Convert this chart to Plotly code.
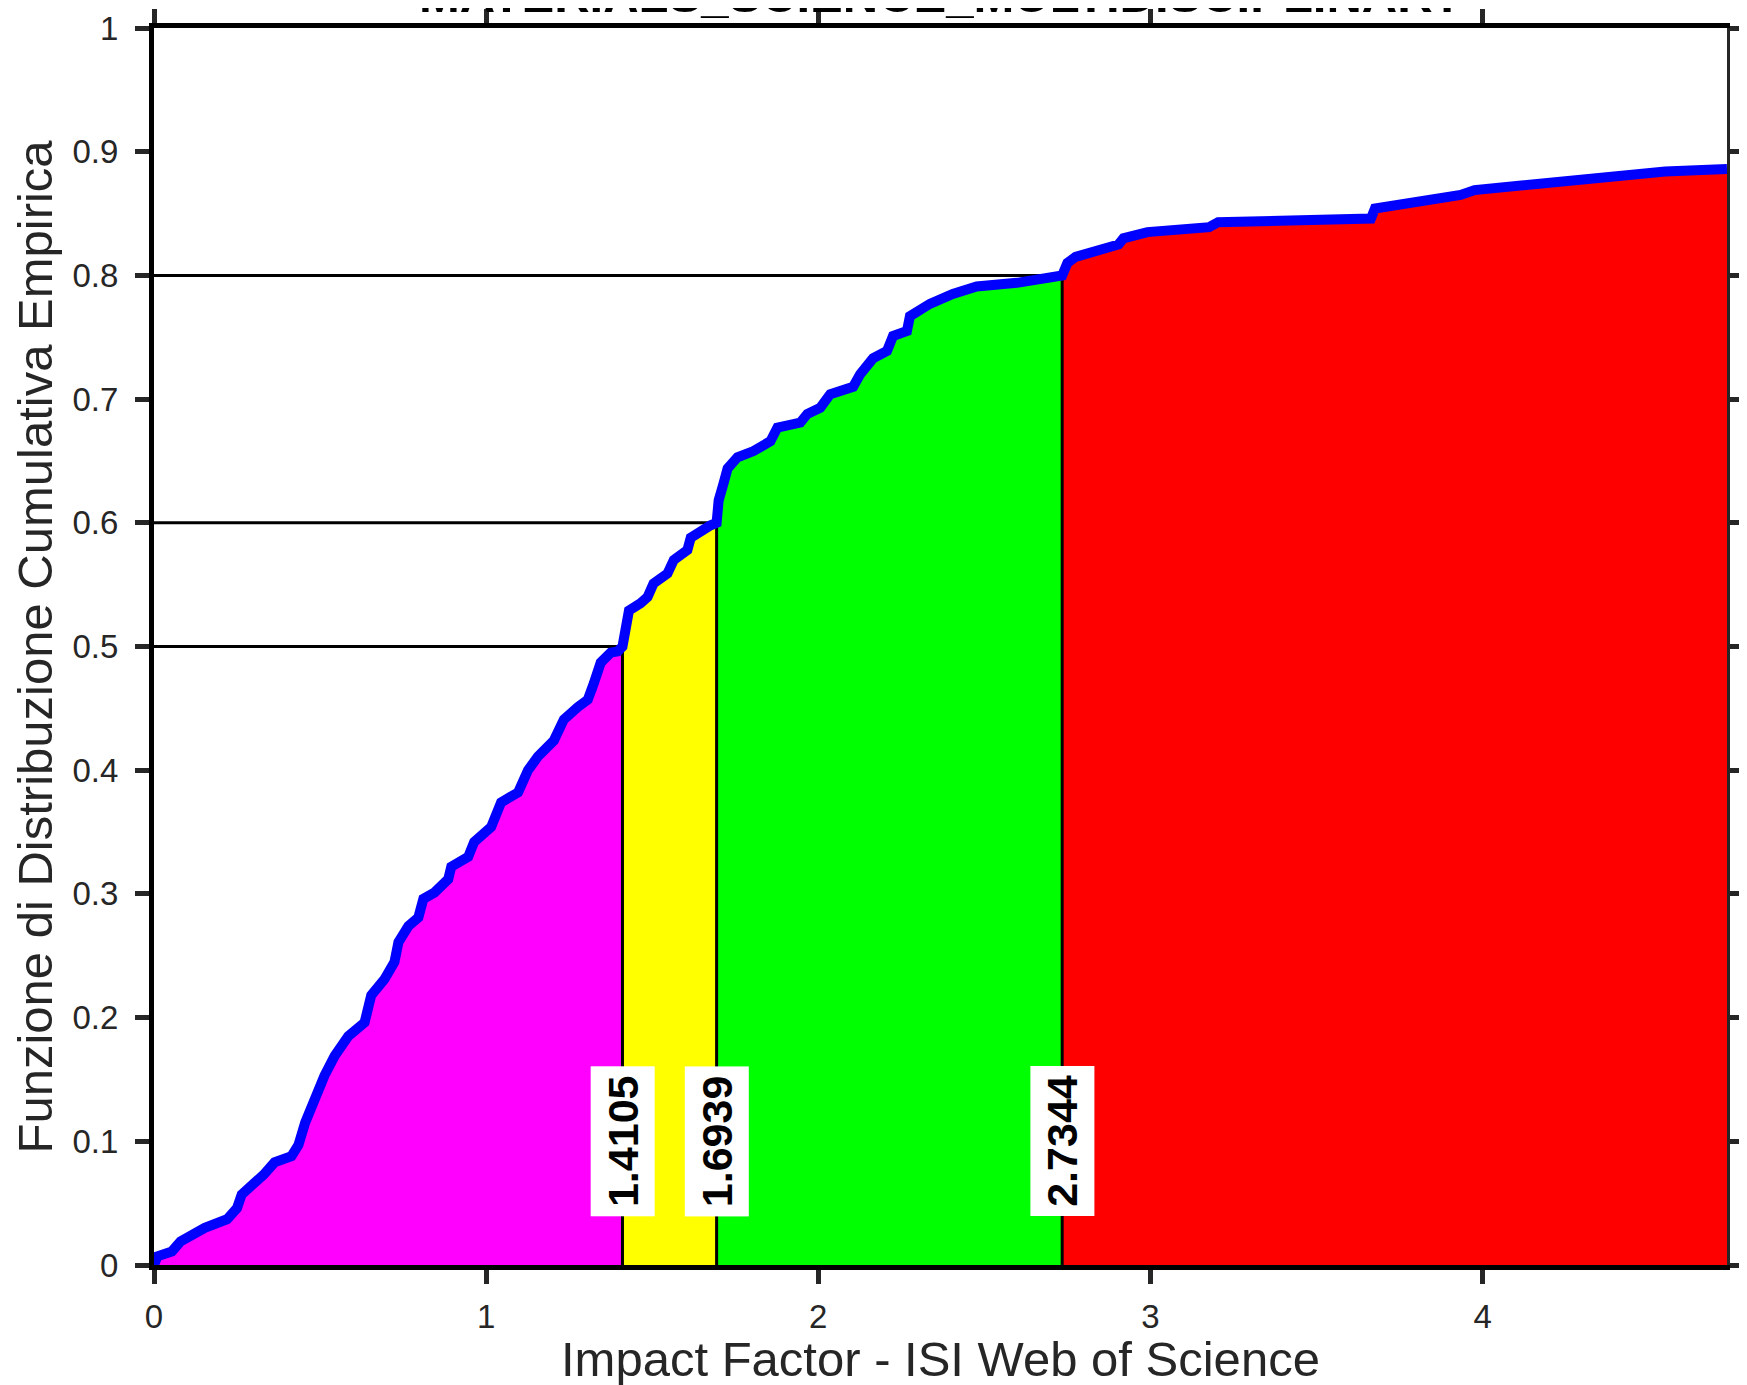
import plotly.graph_objects as go

# ---- data ----
curve_x = [0, 0.01, 0.054, 0.08, 0.153, 0.22, 0.25, 0.264, 0.33, 0.363, 0.414, 0.435, 0.455, 0.48, 0.49,
           0.513, 0.544, 0.585, 0.634, 0.654, 0.694, 0.724, 0.736, 0.766, 0.796, 0.811, 0.844, 0.886, 0.895,
           0.946, 0.964, 1.015, 1.045, 1.096, 1.126, 1.156, 1.204, 1.234, 1.276, 1.306, 1.324, 1.345, 1.375,
           1.396, 1.42, 1.43, 1.465, 1.486, 1.504, 1.546, 1.565, 1.606, 1.616, 1.646, 1.676, 1.70, 1.715,
           1.727, 1.757, 1.787, 1.805, 1.856, 1.877, 1.946, 1.967, 2.006, 2.036, 2.105, 2.126, 2.165, 2.207,
           2.225, 2.267, 2.276, 2.336, 2.405, 2.477, 2.598, 2.697, 2.75, 2.775, 2.904, 2.919, 2.991, 3.177,
           3.204, 3.664, 3.676, 3.850, 3.934, 3.976, 4.276, 4.378, 4.550, 4.736]
curve_y = [0, 0.007, 0.011, 0.019, 0.030, 0.037, 0.046, 0.057, 0.073, 0.083, 0.088, 0.097, 0.115, 0.133, 0.142,
           0.153, 0.169, 0.185, 0.196, 0.218, 0.231, 0.245, 0.261, 0.274, 0.281, 0.296, 0.301, 0.312, 0.322,
           0.330, 0.342, 0.354, 0.374, 0.382, 0.400, 0.411, 0.424, 0.441, 0.451, 0.457, 0.470, 0.487, 0.495,
           0.496, 0.518, 0.529, 0.535, 0.540, 0.551, 0.559, 0.570, 0.578, 0.588, 0.594, 0.598, 0.618, 0.632,
           0.644, 0.653, 0.656, 0.658, 0.666, 0.677, 0.681, 0.688, 0.693, 0.704, 0.710, 0.720, 0.733, 0.739,
           0.751, 0.755, 0.767, 0.777, 0.785, 0.791, 0.794, 0.797, 0.810, 0.815, 0.825, 0.830, 0.835, 0.839,
           0.843, 0.846, 0.854, 0.861, 0.865, 0.869, 0.877, 0.881, 0.884, 0.886]
quantiles = [1.4105, 1.6939, 2.7344]
levels = [0.5, 0.6, 0.8]
quantile_labels = ["1.4105", "1.6939", "2.7344"]
region_colors = ["#FF00FF", "#FFFF00", "#00FF00", "#FF0000"]
x_ticks = [0, 1, 2, 3, 4]
y_ticks = [0, 0.1, 0.2, 0.3, 0.4, 0.5, 0.6, 0.7, 0.8, 0.9, 1]
y_ticktext = ["0", "0.1", "0.2", "0.3", "0.4", "0.5", "0.6", "0.7", "0.8", "0.9", "1"]
title_text = "MATERIALS_SCIENCE_MULTIDISCIPLINARY"
x_title = "Impact Factor - ISI Web of Science"
y_title = "Funzione di Distribuzione Cumulativa Empirica"

# full curve including the quantile points
pts = sorted(list(zip(curve_x, curve_y)) + list(zip(quantiles, levels)))
cx = [p[0] for p in pts]
cy = [p[1] for p in pts]
xmax = curve_x[-1]

FONT = "Liberation Sans, Arial, Helvetica, sans-serif"
fig = go.Figure()

# coloured regions
bounds = [(0.0, 0.0)] + list(zip(quantiles, levels)) + [(xmax, curve_y[-1])]
for i in range(4):
    a, b = bounds[i][0], bounds[i + 1][0]
    seg = [p for p in pts if a <= p[0] <= b]
    fig.add_trace(go.Scatter(x=[p[0] for p in seg], y=[p[1] for p in seg], mode="lines",
                             line=dict(width=0, color=region_colors[i]), fill="tozeroy",
                             fillcolor=region_colors[i], hoverinfo="skip", showlegend=False))

# black quantile guide lines
for q, lv in zip(quantiles, levels):
    fig.add_trace(go.Scatter(x=[0, q, q], y=[lv, lv, 0], mode="lines",
                             line=dict(color="black", width=3), hoverinfo="skip", showlegend=False))

# ECDF curve
fig.add_trace(go.Scatter(x=cx, y=cy, mode="lines", line=dict(color="#0000FF", width=10),
                         showlegend=False))

# invisible trace for the mirrored axes
fig.add_trace(go.Scatter(x=[0], y=[0], xaxis="x2", yaxis="y2", mode="markers",
                         marker=dict(opacity=0), hoverinfo="skip", showlegend=False))

tickfont = dict(family=FONT, size=33, color="#262626")
# the page body has an 8px margin: shrink the figure so it fills the window exactly
fig.update_layout(
    width=1739, height=1377, autosize=False,
    margin=dict(l=146, r=20, t=20, b=120, autoexpand=False),
    paper_bgcolor="white", plot_bgcolor="white",
    xaxis=dict(range=[0, xmax], tickvals=x_ticks, ticks="outside", ticklen=14, tickwidth=5,
               tickcolor="#262626", showline=True, linewidth=5, linecolor="black", automargin=False,
               showgrid=False, zeroline=False, tickfont=tickfont, ticklabelstandoff=4),
    yaxis=dict(range=[0, 1], tickvals=y_ticks, ticktext=y_ticktext, ticks="outside", ticklen=14,
               tickwidth=5, tickcolor="#262626", showline=True, linewidth=5, linecolor="black",
               automargin=False,
               showgrid=False, zeroline=False, tickfont=tickfont, ticklabelstandoff=10),
    xaxis2=dict(range=[0, xmax], tickvals=x_ticks, overlaying="x", side="top", anchor="y2",
                ticks="outside", ticklen=14, tickwidth=5, tickcolor="#262626", showline=True,
                automargin=False,
                linewidth=5, linecolor="black", showgrid=False, zeroline=False, showticklabels=False),
    yaxis2=dict(range=[0, 1], tickvals=y_ticks, overlaying="y", side="right", anchor="x2",
                ticks="outside", ticklen=14, tickwidth=5, tickcolor="#262626", showline=True,
                automargin=False,
                linewidth=3, linecolor="#262626", showgrid=False, zeroline=False, showticklabels=False),
)

annotations = []
for q, lab in zip(quantiles, quantile_labels):
    annotations.append(dict(x=q, y=0.1, xref="x", yref="y", text="<b>%s</b>" % lab, textangle=-90,
                            showarrow=False, bgcolor="white", width=147, height=61, borderpad=1,
                            font=dict(family=FONT, size=43, color="black"),
                            xanchor="center", yanchor="middle"))
annotations.append(dict(x=0.5, y=1.0033, xref="paper", yref="paper", text="<b>%s</b>" % title_text,
                        showarrow=False, font=dict(family=FONT, size=49, color="black"),
                        xanchor="center", yanchor="bottom"))
annotations.append(dict(x=0.5, y=0, xref="paper", yref="paper", text=x_title, showarrow=False,
                        font=dict(family=FONT, size=49, color="#262626"), xanchor="center",
                        yanchor="middle", yshift=-94))
annotations.append(dict(x=0, y=0.5, xref="paper", yref="paper", text=y_title, showarrow=False,
                        textangle=-90, font=dict(family=FONT, size=49, color="#262626"),
                        xanchor="center", yanchor="middle", xshift=-120))
fig.update_layout(annotations=annotations)

fig.write_html("out.html")
